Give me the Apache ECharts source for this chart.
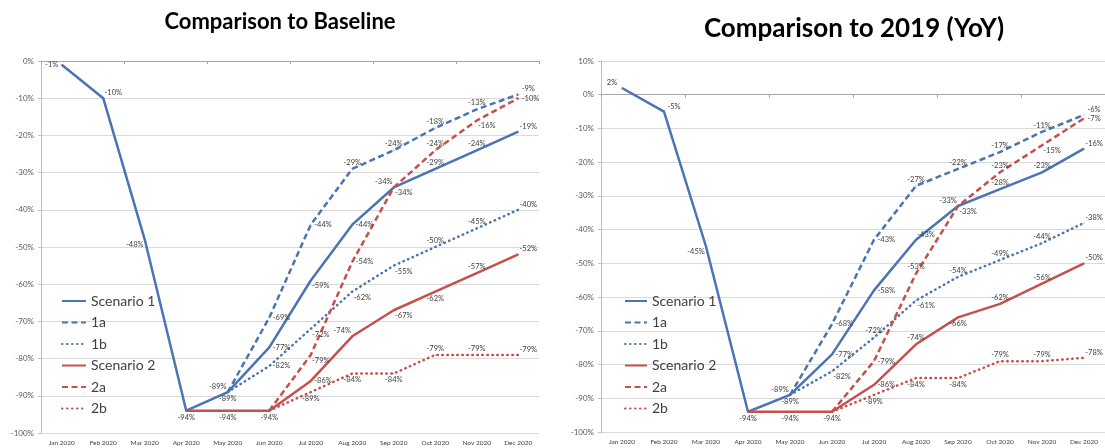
<!DOCTYPE html>
<html>
<head>
<meta charset="utf-8">
<script src="https://cdn.jsdelivr.net/npm/echarts@6/dist/echarts.min.js"></script>
<style>
  html, body { margin: 0; padding: 0; background: #fff; }
  #chart { width: 1105px; height: 448px; }
</style>
</head>
<body>
<div id="chart"></div>
<script>
// Months on the category axis
const MONTHS = ['Jan 2020', 'Feb 2020', 'Mar 2020', 'Apr 2020', 'May 2020', 'Jun 2020',
                'Jul 2020', 'Aug 2020', 'Sep 2020', 'Oct 2020', 'Nov 2020', 'Dec 2020'];
const SERIES_NAMES = ['Scenario 1', '1a', '1b', 'Scenario 2', '2a', '2b'];

// Comparison to Baseline (%)
const BASE_S1 = [-1, -10, -48, -94, -89, -77, -59, -44, -34, -29, -24, -19];
const BASE_1A = [null, null, null, null, -89, -69, -44, -29, -24, -18, -13, -9];
const BASE_1B = [null, null, null, null, -89, -82, -72, -62, -55, -50, -45, -40];
const BASE_S2 = [null, null, null, -94, -94, -94, -86, -74, -67, -62, -57, -52];
const BASE_2A = [null, null, null, null, null, -94, -79, -54, -34, -24, -16, -10];
const BASE_2B = [null, null, null, null, null, -94, -89, -84, -84, -79, -79, -79];

// Comparison to 2019, year over year (%)
const YOY_S1 = [2, -5, -45, -94, -89, -77, -58, -43, -33, -28, -23, -16];
const YOY_1A = [null, null, null, null, -89, -68, -43, -27, -22, -17, -11, -6];
const YOY_1B = [null, null, null, null, -89, -82, -72, -61, -54, -49, -44, -38];
const YOY_S2 = [null, null, null, -94, -94, -94, -86, -74, -66, -62, -56, -50];
const YOY_2A = [null, null, null, null, null, -94, -79, -53, -33, -23, -15, -7];
const YOY_2B = [null, null, null, null, null, -94, -89, -84, -84, -79, -79, -78];

// Value-axis ranges
const BASE_AXIS = { min: -100, max: 0, step: 10 };
const YOY_AXIS = { min: -100, max: 10, step: 10 };

// ---- styling ----
const BLUE = '#4A74B3';
const RED = '#C5504D';
const FONT = 'Lato, "Open Sans", sans-serif';

// where each point's value label sits (. = no label)
const PLACE_BASE = [
  ['l', 'tr', 'bl', 'b', 'b', 'r', 'br', 'r', 'br', 't', 't', 'tr'],
  ['.', '.', '.', '.', 'tl', 'r', 'r', 't', 't', 't', 't', 'tr'],
  ['.', '.', '.', '.', '.', 'r', 'br', 'br', 'br', 't', 't', 'tr'],
  ['.', '.', '.', '.', 'b', 'b', 'r', 'tl', 'br', 'b', 't', 'tr'],
  ['.', '.', '.', '.', '.', '.', 'br', 'r', 'tl', 't', 'br', 'r'],
  ['.', '.', '.', '.', '.', '.', 'b', 'b', 'b', 't', 't', 'tr']
];
const PLACE_YOY = [
  ['tl', 'tr', 'bl', 'b', 'b', 'r', 'r', 'tr', 'br', 't', 't', 'tr'],
  ['.', '.', '.', '.', 'tl', 'r', 'r', 't', 't', 't', 't', 'tr'],
  ['.', '.', '.', '.', '.', 'br', 't', 'br', 't', 't', 't', 'tr'],
  ['.', '.', '.', '.', 'b', 'b', 'r', 't', 'b', 't', 't', 'tr'],
  ['.', '.', '.', '.', '.', '.', 'r', 't', 'tl', 't', 'br', 'r'],
  ['.', '.', '.', '.', '.', '.', 'b', 'b', 'b', 't', 't', 'tr']
];

const LABEL_SPOTS = {
  t:  { position: 'top', distance: 2 },
  b:  { position: 'bottom', distance: 2 },
  l:  { position: 'left', distance: 3 },
  r:  { position: 'right', distance: 3 },
  tr: { position: 'top', distance: 1, offset: [10, 0] },
  tl: { position: 'top', distance: 1, offset: [-10, 0] },
  br: { position: 'bottom', distance: 1, offset: [10, 0] },
  bl: { position: 'bottom', distance: 1, offset: [-10, 0] }
};

const LINE_LOOK = [
  { color: BLUE, type: 'solid', cap: 'butt' },
  { color: BLUE, type: [6, 3.5], cap: 'butt' },
  { color: BLUE, type: [0.5, 4.5], cap: 'round' },
  { color: RED, type: 'solid', cap: 'butt' },
  { color: RED, type: [6, 3.5], cap: 'butt' },
  { color: RED, type: [0.5, 4.5], cap: 'round' }
];

function makeSeries(values, places, k, gridIdx) {
  const look = LINE_LOOK[k];
  return {
    name: SERIES_NAMES[k],
    type: 'line',
    xAxisIndex: gridIdx * 2,
    yAxisIndex: gridIdx,
    symbol: 'circle',
    symbolSize: 1,
    showSymbol: true,
    animation: false,
    itemStyle: { color: look.color },
    lineStyle: { color: look.color, width: 2.5, type: look.type, cap: look.cap, join: 'round' },
    label: {
      show: true,
      fontSize: 7.5,
      fontFamily: FONT,
      color: '#404040',
      formatter: p => p.value + '%'
    },
    data: values.map((v, i) => {
      if (v === null) return '-';
      const spot = places[i];
      return { value: v, label: spot === '.' ? { show: false } : LABEL_SPOTS[spot] };
    })
  };
}

function valueAxis(gridIdx, range) {
  return {
    type: 'value',
    gridIndex: gridIdx,
    min: range.min,
    max: range.max,
    interval: range.step,
    axisLine: { show: true, lineStyle: { color: '#BFBFBF', width: 1 } },
    axisTick: { show: true, length: 3, lineStyle: { color: '#BFBFBF' } },
    axisLabel: { fontSize: 8, fontFamily: FONT, color: '#595959', margin: 7, formatter: '{value}%' },
    splitLine: { show: true, lineStyle: { color: '#D9D9D9', width: 1 } }
  };
}

function categoryAxes(gridIdx) {
  return [
    // axis line with tick marks along the 0% level
    {
      type: 'category', gridIndex: gridIdx, data: MONTHS, position: 'bottom',
      boundaryGap: true,
      axisLine: { show: true, onZero: true, lineStyle: { color: '#A6A6A6', width: 1 } },
      axisTick: { show: true, length: 3, lineStyle: { color: '#A6A6A6' } },
      axisLabel: { show: false },
      splitLine: { show: false }
    },
    // month names along the bottom edge
    {
      type: 'category', gridIndex: gridIdx, data: MONTHS, position: 'bottom',
      boundaryGap: true,
      axisLine: { show: false, onZero: false },
      axisTick: { show: false },
      axisLabel: { show: true, fontSize: 6.5, fontFamily: FONT, color: '#404040', margin: 6, interval: 0 },
      splitLine: { show: false }
    }
  ];
}

function legendAt(left, top, width) {
  return {
    orient: 'vertical',
    left: left,
    top: top,
    padding: 0,
    itemWidth: width,
    itemHeight: 12,
    itemGap: 7.5,
    selectedMode: false,
    itemStyle: { opacity: 0 },
    textStyle: { fontSize: 14, fontFamily: FONT, color: '#404040' },
    data: SERIES_NAMES
  };
}

const baseSets = [BASE_S1, BASE_1A, BASE_1B, BASE_S2, BASE_2A, BASE_2B];
const yoySets = [YOY_S1, YOY_1A, YOY_1B, YOY_S2, YOY_2A, YOY_2B];

const series = [];
baseSets.forEach((vals, k) => series.push(makeSeries(vals, PLACE_BASE[k], k, 0)));
yoySets.forEach((vals, k) => series.push(makeSeries(vals, PLACE_YOY[k], k, 1)));

const chart = echarts.init(document.getElementById('chart'), null, { renderer: 'canvas' });
chart.setOption({
  backgroundColor: '#ffffff',
  animation: false,
  graphic: [
    { type: 'text', x: 280, y: 22, style: { text: 'Comparison to Baseline', fontSize: 22, fontWeight: 'bold', fontFamily: FONT, fill: '#000', align: 'center', verticalAlign: 'middle' } },
    { type: 'text', x: 854, y: 29, style: { text: 'Comparison to 2019 (YoY)', fontSize: 26, fontWeight: 'bold', fontFamily: FONT, fill: '#000', align: 'center', verticalAlign: 'middle' } }
  ],
  grid: [
    { left: 41, top: 61, width: 498, height: 372, containLabel: false },
    { left: 601, top: 61, width: 504, height: 371, containLabel: false }
  ],
  legend: [legendAt(61, 294, 24), legendAt(624, 294, 22)],
  xAxis: categoryAxes(0).concat(categoryAxes(1)),
  yAxis: [valueAxis(0, BASE_AXIS), valueAxis(1, YOY_AXIS)],
  series: series
});
</script>
</body>
</html>
